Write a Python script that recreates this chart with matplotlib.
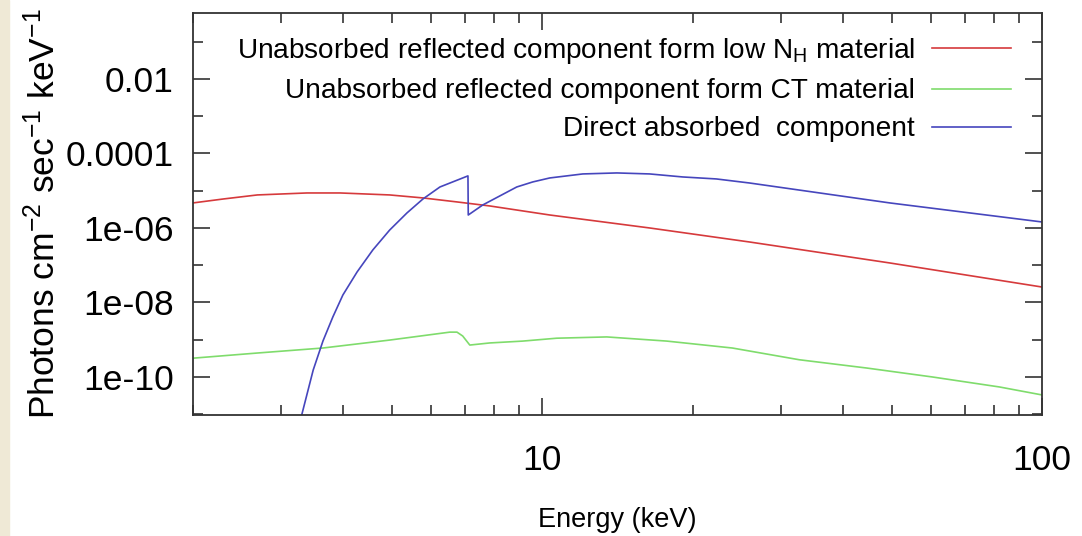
import matplotlib
matplotlib.use("Agg")
import matplotlib.pyplot as plt
from matplotlib.ticker import FixedLocator, NullFormatter
from matplotlib.patches import Rectangle

plt.rcParams['font.family'] = ['Liberation Sans', 'DejaVu Sans']
plt.rcParams['mathtext.default'] = 'regular'

# reflected component from low-NH material (keV, photons cm^-2 s^-1 keV^-1)
refl_low_e = [2.0, 2.30, 2.69, 3.38, 3.94, 4.95, 5.77, 6.75, 7.85, 10.35,
              16.4, 26.0, 49.6, 100.0]
refl_low_f = [4.7e-6, 6.0e-6, 7.7e-6, 8.7e-6, 8.7e-6, 7.7e-6, 6.4e-6, 5.0e-6,
              3.9e-6, 2.23e-6, 1.0e-6, 4.2e-7, 1.15e-7, 2.6e-8]

# reflected component from Compton-thick material
refl_ct_e = [2.0, 2.69, 3.64, 4.95, 6.53, 6.75, 6.93, 7.16, 7.85, 9.14, 10.69,
             13.46, 17.75, 24.0, 32.7, 44.6, 60.4, 82.2, 100.0]
refl_ct_f = [3.2e-10, 4.4e-10, 6.0e-10, 9.8e-10, 1.6e-9, 1.6e-9, 1.26e-9,
             7.2e-10, 8.2e-10, 9.2e-10, 1.1e-9, 1.19e-9, 9.2e-10, 6.0e-10,
             2.9e-10, 1.74e-10, 1.0e-10, 5.4e-11, 3.3e-11]

# direct absorbed component (Fe K edge at ~7.1 keV)
direct_e = [3.2, 3.30, 3.48, 3.64, 3.81, 3.99, 4.26, 4.58, 4.95, 5.36, 5.77,
            6.24, 7.10, 7.11, 7.6, 8.89, 9.57, 10.35, 12.05, 14.1, 16.4, 19.1,
            22.3, 26.0, 49.6, 100.0]
direct_f = [1e-12, 9.5e-12, 1.54e-10, 9.25e-10, 4.1e-9, 1.59e-8, 6.6e-8,
            2.57e-7, 8.8e-7, 2.53e-6, 6.0e-6, 1.26e-5, 2.5e-5, 2.23e-6,
            4.14e-6, 1.26e-5, 1.72e-5, 2.2e-5, 2.82e-5, 3.0e-5, 2.82e-5,
            2.34e-5, 2.07e-5, 1.61e-5, 4.7e-6, 1.45e-6]

labels = [r"Unabsorbed reflected component form low N$_H$ material",
          "Unabsorbed reflected component form CT material",
          "Direct absorbed  component"]

fig = plt.figure(figsize=(10.82, 5.36), dpi=100)
fig.patches.append(Rectangle((0, 0), 9 / 1082, 1, transform=fig.transFigure,
                             color='#efe9d6', zorder=-1))
ax = fig.add_axes([193 / 1082, 1 - 415 / 536, 849 / 1082, 402 / 536])

ax.plot(refl_low_e, refl_low_f, color='#d63a3c', lw=1.2, label=labels[0])
ax.plot(refl_ct_e, refl_ct_f, color='#7fdc6c', lw=1.2, label=labels[1])
ax.plot(direct_e, direct_f, color='#4646bd', lw=1.2, label=labels[2])

ax.set_xscale('log')
ax.set_yscale('log')
ax.set_xlim(2, 100)
ax.set_ylim(10 ** -11.02, 10 ** -0.23)

ax.xaxis.set_major_locator(FixedLocator([10, 100]))
ax.xaxis.set_major_formatter(plt.FixedFormatter(['10', '100']))
ax.xaxis.set_minor_locator(FixedLocator([2, 3, 4, 5, 6, 7, 8, 9,
                                         20, 30, 40, 50, 60, 70, 80, 90]))
ax.xaxis.set_minor_formatter(NullFormatter())
yt = [1e-10, 1e-8, 1e-6, 1e-4, 1e-2]
ax.yaxis.set_major_locator(FixedLocator(yt))
ax.yaxis.set_major_formatter(plt.FixedFormatter(['1e-10', '1e-08', '1e-06', '0.0001', '0.01']))
ax.yaxis.set_minor_locator(FixedLocator([1e-11, 1e-9, 1e-7, 1e-5, 1e-3, 1e-1]))
ax.yaxis.set_minor_formatter(NullFormatter())

ax.tick_params(which='both', direction='in', top=True, right=True,
               color='#333333', width=1.2)
ax.tick_params(which='major', length=12, labelsize=25.5)
ax.tick_params(which='minor', length=7)
ax.tick_params(axis='y', pad=14)
ax.tick_params(axis='x', pad=21)
for s in ax.spines.values():
    s.set_color('#333333')
    s.set_linewidth(1.3)

ax.set_xlabel('Energy (keV)', fontsize=19.5)
ax.xaxis.set_label_coords(0.5, -0.228)
ax.set_ylabel(r'Photons cm$^{-2}$ sec$^{-1}$ keV$^{-1}$', fontsize=25.5)
ax.yaxis.set_label_coords(-0.155, 0.5)

ax.legend(loc='upper right', bbox_to_anchor=(0.9635, 0.942), frameon=False,
          markerfirst=False, fontsize=20.2, handlelength=2.82, handletextpad=0.6,
          borderaxespad=0, borderpad=0, labelspacing=0.43)

fig.savefig('out.png', dpi=100)
